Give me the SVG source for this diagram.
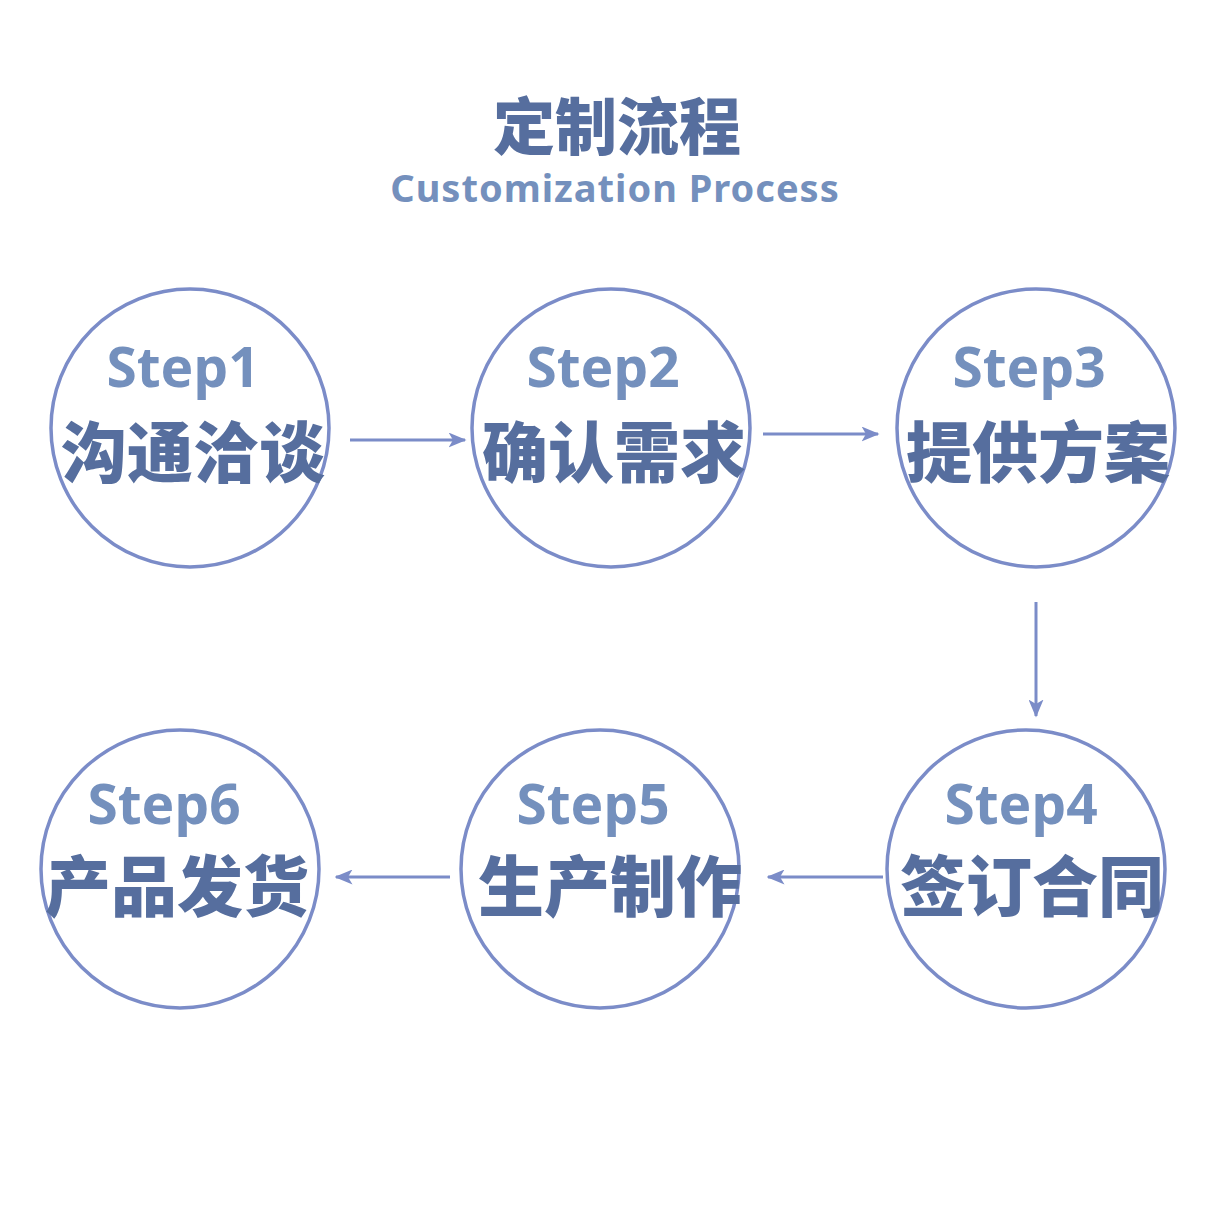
<svg xmlns="http://www.w3.org/2000/svg" width="1230" height="1205" viewBox="0 0 1230 1205">
<style>
.c{fill:none;stroke:#7b8cc8;stroke-width:3.5}
.s{font-family:"Noto Sans","Liberation Sans",sans-serif;font-weight:bold;font-size:55px;fill:#7490bd;text-anchor:middle}
.z{font-family:"Noto Sans CJK SC",sans-serif;font-weight:900;font-size:66px;fill:#566e9e;text-anchor:middle}
.a{stroke:#7b8cc8;stroke-width:3;fill:none;marker-end:url(#m)}
</style>
<defs><marker id="m" viewBox="0 0 12 10" refX="11" refY="5" markerWidth="6" markerHeight="5" orient="auto" markerUnits="strokeWidth"><path d="M0,0 L12,5 L0,10 L3,5 Z" fill="#7b8cc8"/></marker></defs>
<rect width="1230" height="1205" fill="#fff"/>
<g id="title">
<text x="617" y="150" style="font-family:'Noto Sans CJK SC',sans-serif;font-weight:900;font-size:62px;fill:#566e9e;text-anchor:middle">定制流程</text>
<text x="615" y="202" style="font-family:'Noto Sans','Liberation Sans',sans-serif;font-weight:bold;font-size:38px;letter-spacing:1px;fill:#7490bd;text-anchor:middle">Customization Process</text>
</g>
<g id="n1"><circle class="c" cx="190" cy="428" r="139"/><text class="s" x="183" y="387">Step1</text><text class="z" x="193" y="477">沟通洽谈</text></g>
<g id="n2"><circle class="c" cx="611" cy="428" r="139"/><text class="s" x="603" y="387">Step2</text><text class="z" x="614" y="477">确认需求</text></g>
<g id="n3"><circle class="c" cx="1036" cy="428" r="139"/><text class="s" x="1029" y="387">Step3</text><text class="z" x="1038" y="477">提供方案</text></g>
<g id="n4"><circle class="c" cx="1026" cy="869" r="139"/><text class="s" x="1021" y="824">Step4</text><text class="z" x="1032" y="911">签订合同</text></g>
<g id="n5"><circle class="c" cx="600" cy="869" r="139"/><text class="s" x="593" y="824">Step5</text><text class="z" x="610" y="911">生产制作</text></g>
<g id="n6"><circle class="c" cx="180" cy="869" r="139"/><text class="s" x="164" y="824">Step6</text><text class="z" x="177" y="911">产品发货</text></g>
<g id="connectors">
<line class="a" x1="350" y1="440" x2="465" y2="440"/>
<line class="a" x1="763" y1="434" x2="878" y2="434"/>
<line class="a" x1="1036" y1="602" x2="1036" y2="716"/>
<line class="a" x1="883" y1="877" x2="768" y2="877"/>
<line class="a" x1="450" y1="877" x2="336" y2="877"/>
</g>
</svg>
